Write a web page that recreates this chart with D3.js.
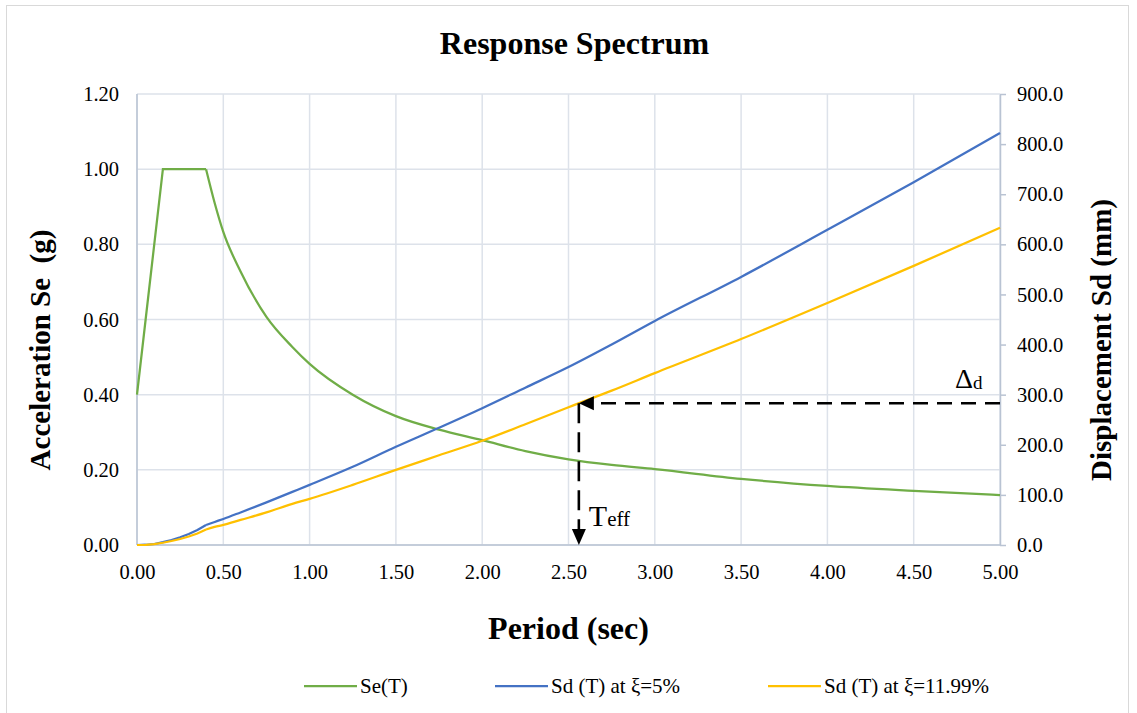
<!DOCTYPE html>
<meta charset="utf-8">
<style>
    body { margin: 0; background: #fff; }
    text { font-family: "Liberation Serif", "Times New Roman", serif; fill: #000; }
    .grid line { stroke: #dde2ea; stroke-width: 1.5px; }
    .axis path, .axis line { stroke: #b9c3d3; stroke-width: 1.5px; }
    .title { font-size: 32px; font-weight: bold; text-anchor: middle; }
    .axisTitle { font-size: 29px; font-weight: bold; text-anchor: middle; }
    .series { fill: none; stroke-width: 2.25px; }
    .legend text { font-size: 21px; }
    .guide { stroke: #000; stroke-width: 2.6px; stroke-dasharray: 15 9; fill: none; }
</style>
<body>
<script src="https://d3js.org/d3.v7.min.js"></script>
<script>

    // values
    var period = [0, 0.05, 0.10, 0.15, 0.20, 0.25, 0.30, 0.35, 0.40, 0.45, 0.50, 0.60, 0.75, 0.90, 1.00,
                  1.25, 1.50, 1.75, 2.00, 2.25, 2.50, 2.75, 3.00, 3.50, 4.00, 4.50, 5.00];
    var seT = [0.40, 0.60, 0.80, 1.00, 1.00, 1.00, 1.00, 1.00, 1.00, 0.91, 0.833, 0.728, 0.607, 0.527, 0.482,
               0.400, 0.343, 0.307, 0.279, 0.250, 0.228, 0.213, 0.202, 0.176, 0.157, 0.144, 0.133];
    var sd5 = [0, 0.5, 2.0, 5.6, 10, 15.5, 22, 30, 40, 46, 52, 65, 85, 106, 120,
               156, 196, 234, 273, 314, 355, 400, 447, 535, 629, 724, 822];
    var sd1199 = [0, 0.4, 1.6, 4.5, 8, 12, 17, 23, 31, 36, 40, 50, 65, 82, 92,
                  120, 150, 179, 208, 241, 275, 308, 343, 411, 483, 557, 633];

    var xTicks = [0, 0.5, 1, 1.5, 2, 2.5, 3, 3.5, 4, 4.5, 5];
    var leftTicks = [0, 0.2, 0.4, 0.6, 0.8, 1.0, 1.2];
    var rightTicks = [0, 100, 200, 300, 400, 500, 600, 700, 800, 900];

    var seriesNames = ["Se(T)", "Sd (T) at \u03BE=5%", "Sd (T) at \u03BE=11.99%"];
    var seriesColors = ["#70ad47", "#4472c4", "#ffc000"];

    // effective period / design displacement marker
    var tEff = 2.56;
    var deltaD = 283;

    // set the dimensions and margins of the graph
    var W = 1137, H = 713;
    var margin = { top: 94, right: 137, bottom: 168, left: 137 };
    var width = W - margin.left - margin.right,
        height = H - margin.top - margin.bottom;

    var x = d3.scaleLinear().domain([0, 5]).range([0, width]);
    var yL = d3.scaleLinear().domain([0, 1.2]).range([height, 0]);
    var yR = d3.scaleLinear().domain([0, 900]).range([height, 0]);

    var svgRoot = d3.select("body").append("svg").attr("width", W).attr("height", H);

    // chart border
    svgRoot.append("rect").attr("x", 6.5).attr("y", 5.5).attr("width", 1122).attr("height", 720)
        .attr("fill", "none").attr("stroke", "#d9d9d9");

    svgRoot.append("text").attr("class", "title").attr("x", W / 2 + 6).attr("y", 54).text("Response Spectrum");

    var svg = svgRoot.append("g").attr("transform", "translate(" + margin.left + "," + margin.top + ")");

    // gridlines
    svg.append("g").attr("class", "grid").selectAll("line").data(leftTicks).enter().append("line")
        .attr("x1", 0).attr("x2", width).attr("y1", function(d) { return yL(d); }).attr("y2", function(d) { return yL(d); });
    svg.append("g").attr("class", "grid").selectAll("line").data(xTicks).enter().append("line")
        .attr("y1", 0).attr("y2", height).attr("x1", function(d) { return x(d); }).attr("x2", function(d) { return x(d); });

    // axes
    svg.append("g").attr("class", "axis").attr("transform", "translate(0," + height + ")")
        .call(d3.axisBottom(x).tickValues(xTicks).tickFormat(d3.format(".2f")).tickSize(0).tickPadding(19))
        .call(function(g) { g.select(".domain").attr("d", "M0,0H" + width); });
    svg.append("g").attr("class", "axis")
        .call(d3.axisLeft(yL).tickValues(leftTicks).tickFormat(d3.format(".2f")).tickSize(0).tickPadding(18))
        .call(function(g) { g.select(".domain").attr("d", "M0," + height + "V0"); });
    svg.append("g").attr("class", "axis").attr("transform", "translate(" + width + ",0)")
        .call(d3.axisRight(yR).tickValues(rightTicks).tickFormat(d3.format(".1f")).tickSizeOuter(0).tickSizeInner(6).tickPadding(11));

    svg.selectAll(".axis text").attr("font-family", null)
        .style("font-family", "\"Liberation Serif\", \"Times New Roman\", serif").style("font-size", "20.5px").attr("fill", "#000");

    // axis titles
    svgRoot.append("text").attr("class", "axisTitle").attr("transform", "translate(50,350) rotate(-90)")
        .attr("xml:space", "preserve").text("Acceleration Se  (g)");
    svgRoot.append("text").attr("class", "axisTitle").attr("transform", "translate(1111,340) rotate(-90)")
        .text("Displacement Sd (mm)");
    svgRoot.append("text").attr("class", "axisTitle").attr("x", W / 2).attr("y", 639).style("font-size", "32px").text("Period (sec)");

    // series: straight segments up to the corner at T = 0.40, smooth after it
    var iCorner = period.indexOf(0.40);
    function drawSeries(values, yScale, color) {
        var pts = period.map(function(t, i) { return [t, values[i]]; });
        var line = d3.line().x(function(d) { return x(d[0]); }).y(function(d) { return yScale(d[1]); });
        svg.append("path").datum(pts.slice(0, iCorner + 1)).attr("class", "series").attr("stroke", color).attr("d", line);
        svg.append("path").datum(pts.slice(iCorner)).attr("class", "series").attr("stroke", color)
            .attr("d", line.curve(d3.curveMonotoneX));
    }
    drawSeries(seT, yL, seriesColors[0]);
    drawSeries(sd5, yR, seriesColors[1]);
    drawSeries(sd1199, yR, seriesColors[2]);

    // dashed guides with arrowheads
    var tx = x(tEff), dy = yR(deltaD);
    svg.append("path").attr("class", "guide").attr("d", "M" + width + "," + dy + "H" + (tx + 14));
    svg.append("path").attr("d", "M" + tx + "," + dy + "L" + (tx + 15) + "," + (dy - 7) + "L" + (tx + 15) + "," + (dy + 7) + "Z").attr("fill", "#000");
    svg.append("path").attr("class", "guide").style("stroke-dasharray", "20 9").attr("d", "M" + tx + "," + dy + "V" + (height - 14));
    svg.append("path").attr("d", "M" + tx + "," + height + "L" + (tx - 7) + "," + (height - 16) + "L" + (tx + 7) + "," + (height - 16) + "Z").attr("fill", "#000");

    var tl = svg.append("text").attr("x", tx + 10).attr("y", height - 19).style("font-size", "30px");
    tl.append("tspan").text("T");
    tl.append("tspan").style("font-size", "21px").text("eff");
    var dl = svg.append("text").attr("x", width - 45).attr("y", dy - 15).style("font-size", "28px");
    dl.append("tspan").text("\u0394");
    dl.append("tspan").style("font-size", "19px").attr("dy", 1).text("d");

    // legend
    var legX = [304, 495, 768];
    var leg = svgRoot.append("g").attr("class", "legend");
    seriesNames.forEach(function(name, i) {
        leg.append("line").attr("x1", legX[i]).attr("x2", legX[i] + 53).attr("y1", 686).attr("y2", 686)
            .attr("stroke", seriesColors[i]).attr("stroke-width", 2.25);
        leg.append("text").attr("x", legX[i] + 56).attr("y", 693).text(name);
    });

</script>
</body>
